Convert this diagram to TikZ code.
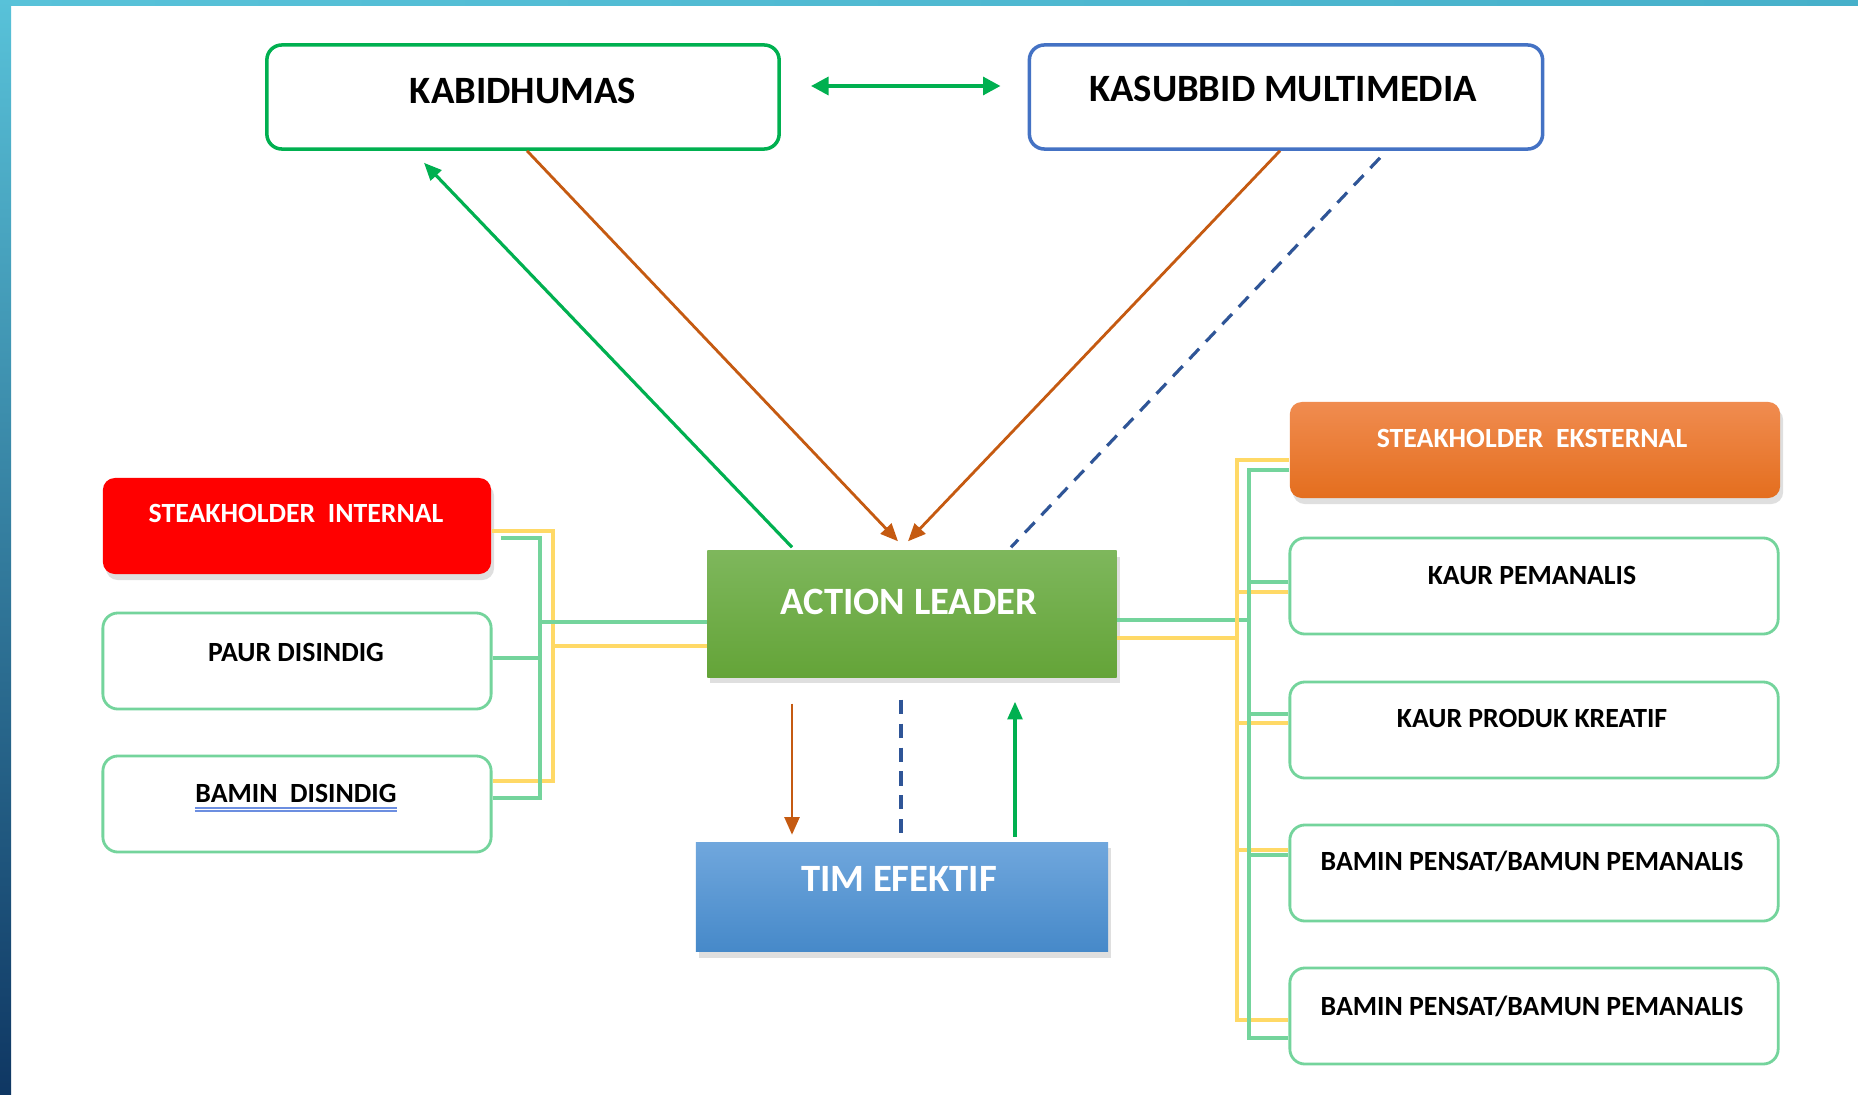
\documentclass[tikz,border=0pt]{standalone}
\usepackage{fontspec}
\setmainfont{Carlito}
\usetikzlibrary{arrows.meta,calc,shadows}

\definecolor{officegreen}{HTML}{00B050}
\definecolor{linkgreen}{HTML}{74D49C}
\definecolor{linkyellow}{HTML}{FFD966}
\definecolor{rustorange}{HTML}{C55A11}
\definecolor{darkblue}{HTML}{2F5597}
\definecolor{frameblue}{HTML}{4472C4}
\definecolor{spellblue}{HTML}{6C8EE0}
\definecolor{leadtop}{HTML}{7EB75C}
\definecolor{leadbottom}{HTML}{64A438}
\definecolor{timtop}{HTML}{70A7DD}
\definecolor{timbottom}{HTML}{4689C9}
\definecolor{exttop}{HTML}{F08C50}
\definecolor{extbottom}{HTML}{E46E1E}
\definecolor{stripleft}{HTML}{58C2D9}
\definecolor{stripmid}{HTML}{6CCFE0}
\definecolor{stripright}{HTML}{46B0CA}
\definecolor{stripbottom}{HTML}{0F3763}

\begin{document}
\begin{tikzpicture}[x=0.01cm, y=-0.01cm,
  every node/.style={font=\bfseries},
  topbox/.style={draw, line width=1pt, rounded corners=0.15cm, minimum width=5.12cm, minimum height=1.04cm},
  subbox/.style={draw=linkgreen, line width=0.8pt, rounded corners=0.15cm, fill=white, minimum height=0.96cm},
  fancybox/.style={rounded corners=0.12cm, drop shadow={opacity=0.25, shadow xshift=0.03cm, shadow yshift=-0.06cm}},
  bigtext/.style={inner sep=0pt, text depth=0pt, font=\fontsize{11}{13}\selectfont\bfseries},
  smalltext/.style={inner sep=0pt, text depth=0pt, font=\fontsize{7.9}{9.5}\selectfont\bfseries},
  gline/.style={linkgreen, line width=0.9pt},
  yline/.style={linkyellow, line width=0.9pt},
  tip/.style={-{Triangle[length=5pt,width=4.2pt]}},
  dashline/.style={darkblue, line width=0.9pt, dash pattern=on 4pt off 2.8pt}
]
  \useasboundingbox (0,0) rectangle (1858,1094);
  \fill[white] (0,0) rectangle (1858,1094);
  \shade[left color=stripleft, middle color=stripmid, right color=stripright] (0,0) rectangle (1858,6);
  \shade[top color=stripleft, bottom color=stripbottom] (0,0) rectangle (11,1094);

  \node[topbox, draw=officegreen] (kabid) at (523,97) {};
  \node[bigtext] (kabidtxt) at (523,91) {KABIDHUMAS};
  \node[topbox, draw=frameblue, minimum width=5.13cm] (kasub) at (1286,97) {};
  \node[bigtext] (kasubtxt) at (1283,89) {KASUBBID MULTIMEDIA};

  \node[fancybox, rounded corners=0pt, top color=leadtop, bottom color=leadbottom,
        minimum width=4.09cm, minimum height=1.26cm] (action) at (912,614) {};
  \node[bigtext, white] (actiontxt) at (909,602) {ACTION LEADER};
  \node[fancybox, rounded corners=0pt, top color=timtop, bottom color=timbottom,
        minimum width=4.12cm, minimum height=1.09cm] (tim) at (902,897) {};
  \node[bigtext, white] (timtxt) at (899,879) {TIM EFEKTIF};

  \node[fancybox, fill=red, minimum width=3.88cm, minimum height=0.96cm] (stint) at (297,526) {};
  \node[smalltext, white] (stinttxt) at (296,513) {STEAKHOLDER\ \ INTERNAL};
  \node[subbox, minimum width=3.88cm] (paur) at (297,661) {};
  \node[smalltext] (paurtxt) at (296,652) {PAUR DISINDIG};
  \node[subbox, minimum width=3.88cm] (bamin) at (297,804) {};
  \node[smalltext] (bamintxt) at (296,793) {BAMIN\ \ DISINDIG};
  \draw[spellblue, line width=0.7pt] ($(bamintxt.south west)+(0,5)$) -- ($(bamintxt.south east)+(0,5)$);
  \draw[spellblue, line width=0.7pt] ($(bamintxt.south west)+(0,8)$) -- ($(bamintxt.south east)+(0,8)$);

  \node[fancybox, top color=exttop, bottom color=extbottom,
        minimum width=4.90cm, minimum height=0.96cm] (stext) at (1535,450) {};
  \node[smalltext, white] (stexttxt) at (1532,438) {STEAKHOLDER\ \ EKSTERNAL};
  \node[subbox, minimum width=4.88cm] (kaur1) at (1534,586) {};
  \node[smalltext] (kaur1txt) at (1532,575) {KAUR PEMANALIS};
  \node[subbox, minimum width=4.88cm] (kaur2) at (1534,730) {};
  \node[smalltext] (kaur2txt) at (1532,718) {KAUR PRODUK KREATIF};
  \node[subbox, minimum width=4.88cm] (bamin1) at (1534,873) {};
  \node[smalltext] (bamin1txt) at (1532,861) {BAMIN PENSAT/BAMUN PEMANALIS};
  \node[subbox, minimum width=4.88cm] (bamin2) at (1534,1016) {};
  \node[smalltext] (bamin2txt) at (1532,1006) {BAMIN PENSAT/BAMUN PEMANALIS};

  \coordinate (ljg) at (540,622);
  \coordinate (ljy) at (553,646);
  \draw[yline] ($(stint.east)+(0,5)$) -| (ljy);
  \draw[yline] ($(bamin.east)+(0,-23)$) -| (ljy);
  \draw[yline] (ljy) -- (ljy -| action.west);
  \draw[gline] ($(stint.east)+(9,12)$) -| (ljg);
  \draw[gline] ($(paur.east)+(0,-3)$) -| (ljg);
  \draw[gline] ($(bamin.east)+(0,-6)$) -| (ljg);
  \draw[gline] (ljg) -- (ljg -| action.west);

  \coordinate (rjg) at (1249,620);
  \coordinate (rjy) at (1237,638);
  \draw[yline] (action.east |- rjy) -- (rjy);
  \draw[gline] (action.east |- rjg) -- (rjg);
  \foreach \nm/\dg/\dy in {stext/20/10, kaur1/-4/6, kaur2/-16/-7, bamin1/-18/-23, bamin2/22/4} {
    \draw[yline] ($(\nm.west)+(0,\dy)$) -| (rjy);
    \draw[gline] ($(\nm.west)+(0,\dg)$) -| (rjg);
  }

  \draw[officegreen, line width=1.2pt, {Triangle[length=5pt,width=5pt]}-{Triangle[length=5pt,width=5pt]}]
    ($(kabid.east)+(30,-11)$) -- ($(kasub.west)+(-27,-11)$);
  \draw[officegreen, line width=0.9pt, tip] ($(action.north)+(-120,-3)$) -- ($(kabid.south)+(-99,12)$);
  \draw[rustorange, line width=0.8pt, tip] ($(kabid.south)+(4,0)$) -- ($(action.north)+(-14,-9)$);
  \draw[rustorange, line width=0.8pt, tip] ($(kasub.south)+(-6,0)$) -- ($(action.north)+(-4,-9)$);
  \draw[dashline] ($(kasub.south)+(94,7)$) -- ($(action.north)+(99,-3)$);

  \draw[rustorange, line width=0.8pt, tip] ($(action.south)+(-120,26)$) -- ($(tim.north)+(-110,-7)$);
  \draw[dashline] ($(action.south)+(-11,22)$) -- ($(tim.north)+(-1,-6)$);
  \draw[officegreen, line width=0.9pt, tip] ($(tim.north)+(113,-5)$) -- ($(action.south)+(103,24)$);
\end{tikzpicture}
\end{document}
